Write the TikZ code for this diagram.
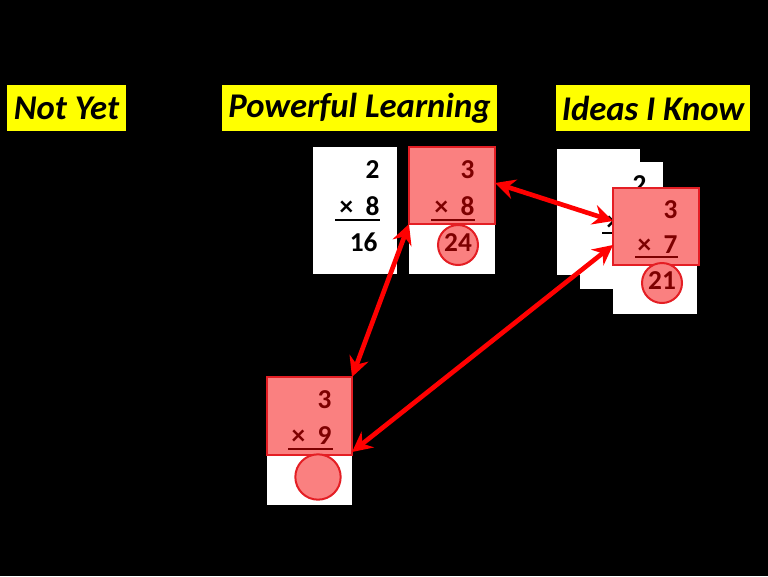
\documentclass[tikz,border=0pt]{standalone}
\usepackage{fontspec}
\setmainfont{Carlito}
\usetikzlibrary{arrows.meta}

\definecolor{hiyellow}{RGB}{255,255,0}
\definecolor{cardred}{RGB}{228,30,36}
\definecolor{cardpink}{RGB}{250,128,128}
\definecolor{darkred}{RGB}{125,0,0}

\tikzset{every picture/.style={line width=0.75pt}}
\tikzset{
  header/.style={fill=hiyellow,text=black,inner sep=0pt,font=\fontsize{26}{30}\selectfont\bfseries\itshape},
  card/.style={fill=white,draw=none},
  redtop/.style={fill=cardpink,draw=cardred,line width=2},
  answer/.style={circle,fill=cardpink,draw=cardred,line width=1.5,inner sep=0pt},
  digit/.style={anchor=east,inner sep=0pt,font=\fontsize{20.5}{24}\selectfont\bfseries},
  link/.style={draw=red,line width=3.5,{Stealth[length=15,width=15,inset=5]}-{Stealth[length=15,width=15,inset=5]}}
}

\begin{document}
\begin{tikzpicture}[x=0.75pt,y=0.75pt,yscale=-1,xscale=1]
	%background, sets the size of the diagram
	\fill [black] (0,0) rectangle (768,576) ;
	\useasboundingbox (0,0) rectangle (768,576) ;

	% Headers
	\node [header,minimum width=89.25pt,minimum height=34.5pt] (notyet) at (66.5,108) {Not Yet};
	\node [header,minimum width=206.25pt,minimum height=34.5pt] (powerful) at (359.5,108) {Powerful Learning};
	\node [header,minimum width=145.5pt,minimum height=34.5pt] (ideas) at (653,108) {Ideas I Know};

	% Card 2 x 8
	\fill [card] (313,147) rectangle (397,274) ;
	\node [digit] (t28a) at (380,170) {2};
	\node [digit] (t28b) at (380,206) {×\ \ 8};
	\draw [line width=1.5] (335,220) -- (380,220) ;
	\node [digit] (t28c) at (378,242) {16};

	% Card 3 x 8
	\fill [card] (409,147) rectangle (495,274) ;
	\draw [redtop] (409,147) rectangle (495,224) ;
	\coordinate (r38nw) at (409,147) ; \coordinate (r38se) at (495,224) ;
	\node [digit,text=darkred] (t38a) at (475,170) {3};
	\node [digit,text=darkred] (t38b) at (475,206) {×\ \ 8};
	\draw [darkred,line width=1.5] (431,220) -- (475,220) ;
	\node [answer,minimum size=30pt] (c38) at (458,245) {};
	\node [digit,text=darkred,anchor=center] (t38c) at (458,243) {24};

	% Ideas I know stack
	\fill [card] (557,149) rectangle (640,275) ;
	\fill [card] (580,162) rectangle (663,289) ;
	\node [digit] (t2a) at (647,185) {2};
	\node [digit] (t2b) at (647,221) {×\ \ 6};
	\draw [line width=1.5] (602,233) -- (647,233) ;
	\fill [card] (613,188) rectangle (697,314) ;
	\draw [redtop] (613,188) rectangle (699,265) ;
	\coordinate (r37nw) at (613,188) ; \coordinate (r37se) at (699,265) ;
	\node [digit,text=darkred] (t37a) at (678,210) {3};
	\node [digit,text=darkred] (t37b) at (678,245) {×\ \ 7};
	\draw [darkred,line width=1.5] (635,257) -- (678,257) ;
	\node [answer,minimum size=30pt] (c37) at (662,283) {};
	\node [digit,text=darkred,anchor=center] (t37c) at (662,281) {21};

	% Card 3 x 9
	\fill [card] (267,377) rectangle (352,505) ;
	\draw [redtop] (267,377) rectangle (352,455) ;
	\coordinate (r39nw) at (267,377) ; \coordinate (r39se) at (352,455) ;
	\node [digit,text=darkred] (t39a) at (332,400) {3};
	\node [digit,text=darkred] (t39b) at (332,436) {×\ \ 9};
	\draw [darkred,line width=1.5] (288,449) -- (333,449) ;
	\node [answer,minimum size=34pt] (c39) at (318,477) {};

	% Links
	\draw [link] (r38nw |- r38se) -- (r39se |- r39nw) ;
	\draw [link] (r38se |- 0,183) -- (r37nw |- 0,221) ;
	\draw [link] (r37nw |- 0,245) -- (r39se |- 0,452) ;

\end{tikzpicture}
\end{document}
